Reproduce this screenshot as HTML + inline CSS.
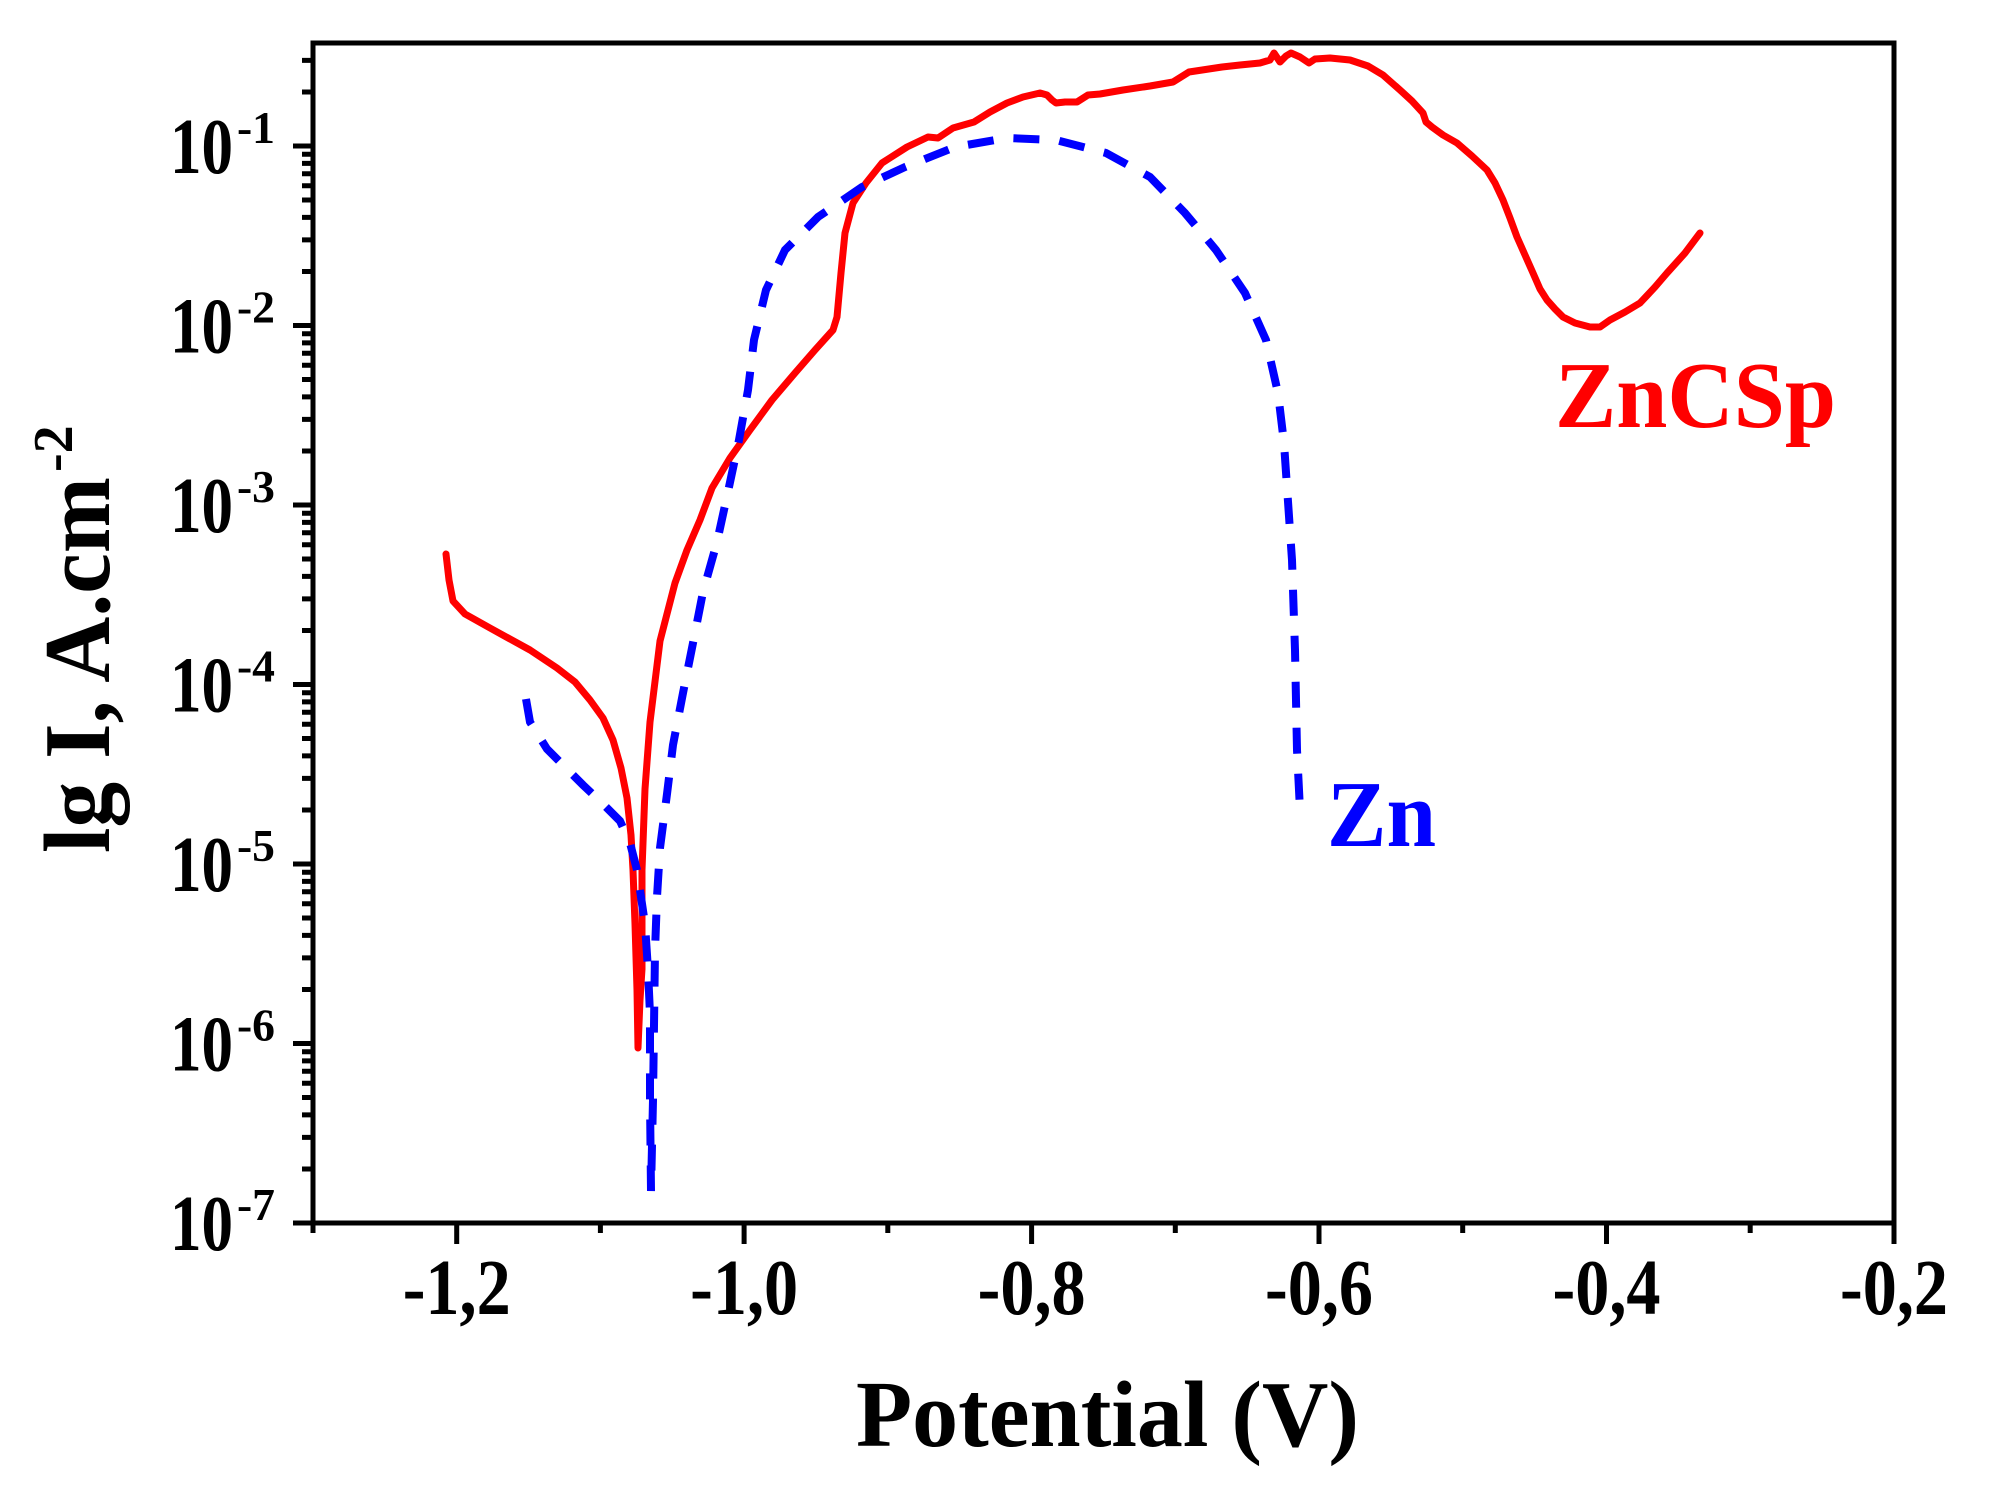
<!DOCTYPE html>
<html><head><meta charset="utf-8"><style>
html,body{margin:0;padding:0;background:#fff;}
svg{display:block;}
text{font-family:"Liberation Serif","Times New Roman",serif;font-weight:bold;}
</style></head><body>
<svg width="2000" height="1490" viewBox="0 0 2000 1490" xmlns="http://www.w3.org/2000/svg">
<defs>
<g id="mt">
<path d="M302 -54H313M302 -85.6H313M302 -108.1H313M302 -125.5H313M302 -139.7H313M302 -151.7H313M302 -162.1H313M302 -171.3H313" stroke="#000" stroke-width="5" fill="none"/>
</g>
</defs>
<rect x="313" y="43" width="1581" height="1180" fill="none" stroke="#000" stroke-width="5"/>
<path d="M293 146H313M293 325.5H313M293 505H313M293 684.5H313M293 864H313M293 1043.5H313M293 1223H313" stroke="#000" stroke-width="5"/>
<path d="M302 92H313M302 60.4H313" stroke="#000" stroke-width="5"/>
<use href="#mt" transform="translate(0,325.5)"/>
<use href="#mt" transform="translate(0,505)"/>
<use href="#mt" transform="translate(0,684.5)"/>
<use href="#mt" transform="translate(0,864)"/>
<use href="#mt" transform="translate(0,1043.5)"/>
<use href="#mt" transform="translate(0,1223)"/>
<path d="M456.7 1223V1244M744.1 1223V1244M1031.6 1223V1244M1319 1223V1244M1606.5 1223V1244M1894 1223V1244" stroke="#000" stroke-width="5"/>
<path d="M313 1223V1233M600.4 1223V1233M887.8 1223V1233M1175.3 1223V1233M1462.7 1223V1233M1750.2 1223V1233" stroke="#000" stroke-width="5"/>

<g font-size="72">
<text transform="translate(170,173) scale(1,1.1)" textLength="63" lengthAdjust="spacingAndGlyphs">10</text>
<text transform="translate(170,352.5) scale(1,1.1)" textLength="63" lengthAdjust="spacingAndGlyphs">10</text>
<text transform="translate(170,532) scale(1,1.1)" textLength="63" lengthAdjust="spacingAndGlyphs">10</text>
<text transform="translate(170,711.5) scale(1,1.1)" textLength="63" lengthAdjust="spacingAndGlyphs">10</text>
<text transform="translate(170,891) scale(1,1.1)" textLength="63" lengthAdjust="spacingAndGlyphs">10</text>
<text transform="translate(170,1070.5) scale(1,1.1)" textLength="63" lengthAdjust="spacingAndGlyphs">10</text>
<text transform="translate(170,1250) scale(1,1.1)" textLength="63" lengthAdjust="spacingAndGlyphs">10</text>
</g>
<g font-size="46">
<text x="237" y="143" textLength="38" lengthAdjust="spacingAndGlyphs">-1</text>
<text x="237" y="322.5" textLength="38" lengthAdjust="spacingAndGlyphs">-2</text>
<text x="237" y="502" textLength="38" lengthAdjust="spacingAndGlyphs">-3</text>
<text x="237" y="681.5" textLength="38" lengthAdjust="spacingAndGlyphs">-4</text>
<text x="237" y="861" textLength="38" lengthAdjust="spacingAndGlyphs">-5</text>
<text x="237" y="1040.5" textLength="38" lengthAdjust="spacingAndGlyphs">-6</text>
<text x="237" y="1220" textLength="38" lengthAdjust="spacingAndGlyphs">-7</text>
</g>
<g font-size="72" text-anchor="middle">
<text transform="translate(456.7,1314) scale(1,1.1)" textLength="108" lengthAdjust="spacingAndGlyphs">-1,2</text>
<text transform="translate(744.1,1314) scale(1,1.1)" textLength="108" lengthAdjust="spacingAndGlyphs">-1,0</text>
<text transform="translate(1031.6,1314) scale(1,1.1)" textLength="108" lengthAdjust="spacingAndGlyphs">-0,8</text>
<text transform="translate(1319,1314) scale(1,1.1)" textLength="108" lengthAdjust="spacingAndGlyphs">-0,6</text>
<text transform="translate(1606.5,1314) scale(1,1.1)" textLength="108" lengthAdjust="spacingAndGlyphs">-0,4</text>
<text transform="translate(1894,1314) scale(1,1.1)" textLength="108" lengthAdjust="spacingAndGlyphs">-0,2</text>
</g>
<text transform="translate(856,1446) scale(1,1.1)" font-size="86" textLength="503" lengthAdjust="spacingAndGlyphs">Potential (V)</text>
<g transform="translate(109,853) rotate(-90)">
<text transform="scale(1,1.1)" font-size="86" textLength="376" lengthAdjust="spacingAndGlyphs">lg I, A.cm</text>
<text x="381" y="-37" font-size="56">-2</text>
</g>

<polyline fill="none" stroke="#ff0000" stroke-width="7" stroke-linejoin="round" stroke-linecap="round" points="
446,554 449,580 453,601 465,614 490,628 530,650 557,668 575,682 590,700 603,718 613,740 621,768 627,798 631,835 633,870 635,924 637,990 638,1048
640,1000 642,969 642,870 645,789 650,722 660,641 675,583 687,550 700,520 712,488 730,458 750,430 772,400 795,373 815,350 833,330 837,317 839,295 841,273 845,233 853,203 866,183 882,163 907,147 928,137 938,138 953,128 974,122 990,112 1007,103 1023,97 1040,93 1047,95 1052,100 1056,103 1065,102 1077,102 1088,95 1100,94 1123,90 1150,86 1173,82 1189,72 1222,67 1240,65 1260,63 1270,60 1274,53 1280,62 1286,56 1291,53 1300,57 1309,63 1315,59 1330,58 1350,60 1368,66 1383,75 1400,90 1412,101 1423,113 1426,122 1432,127 1443,135 1457,143 1472,156 1487,170 1495,183 1503,200 1510,218 1517,237 1525,255 1533,273 1540,289 1547,300 1555,309 1563,317 1575,323 1590,327 1600,327 1610,320 1625,312 1640,303 1655,287 1667,273 1685,253 1700,233"/>

<polyline fill="none" stroke="#0000ff" stroke-width="8" stroke-dasharray="26 20" points="
526,699 530,722 547,749 565,767 583,785 602,803 620,821 630,843 637,870 645,924 648,970 650,1014 650,1100 651,1191
653,1100 655,951 657,897 660,848 667,794 673,745 683,693 693,643 703,592 717,542 729,487 739,440 748,390 754,340 766,290 785,250 818,217 862,187 905,167 955,147 1007,138 1056,140 1106,153 1150,177 1185,213 1216,250 1245,293 1266,340 1278,393 1284,443 1287,487 1292,560 1295,650 1297,750 1300,810"/>

<text transform="translate(1555,427) scale(1,1.1)" font-size="86" fill="#ff0000" textLength="281" lengthAdjust="spacingAndGlyphs">ZnCSp</text>
<text transform="translate(1327,846) scale(1,1.1)" font-size="86" fill="#0000ff" textLength="109" lengthAdjust="spacingAndGlyphs">Zn</text>
</svg>
</body></html>
